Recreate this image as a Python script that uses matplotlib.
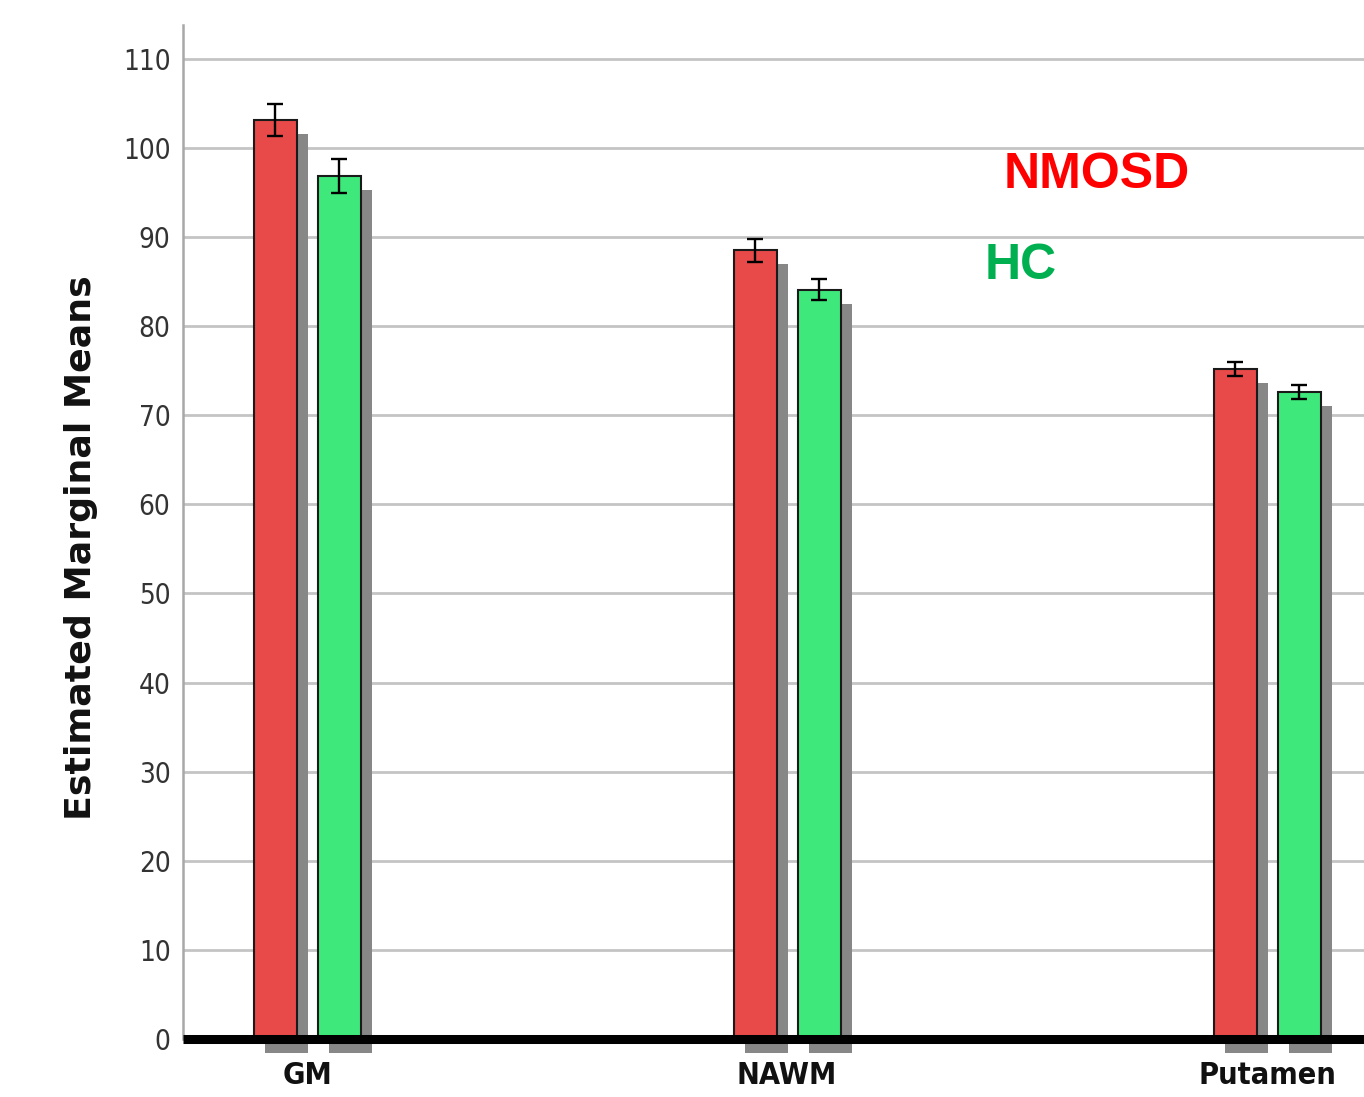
import matplotlib
matplotlib.use("Agg")
import matplotlib.pyplot as plt
from matplotlib import font_manager
import numpy as np

# ---- data ----
categories = ["GM", "NAWM", "Putamen"]
nmosd_means = [103.1, 88.5, 75.2]
nmosd_err = [1.8, 1.3, 0.8]
hc_means = [96.9, 84.1, 72.6]
hc_err = [1.9, 1.15, 0.8]
y_ticks = [0, 10, 20, 30, 40, 50, 60, 70, 80, 90, 100, 110]
series_labels = ["NMOSD", "HC"]

W, H, DPI = 1364, 1097, 100
fig = plt.figure(figsize=(W / DPI, H / DPI), dpi=DPI)

# axes geometry (pixels)
ax_left, ax_right, ax_bottom, ax_top = 183, 1364, 1039, 25
ax = fig.add_axes([ax_left / W, 1 - ax_bottom / H,
                   (ax_right - ax_left) / W, (ax_bottom - ax_top) / H])

px_per_x = 480.0
first_center = 307.0
ax.set_xlim(-(first_center - ax_left) / px_per_x, (ax_right - first_center) / px_per_x)
ymax = 113.8
ax.set_ylim(0, ymax)
px_per_y = (ax_bottom - ax_top) / ymax

x = np.arange(len(categories))
width = 43 / px_per_x
offset = 32 / px_per_x
red = "#e84a4a"
green = "#3ee87a"
shadow = "#878787"

sdx = 11 / px_per_x
sdy = 14 / px_per_y

for xs, vals, errs, col in [(x - offset, nmosd_means, nmosd_err, red),
                            (x + offset, hc_means, hc_err, green)]:
    vals = np.array(vals)
    ax.bar(xs + sdx, vals, width=width, bottom=-sdy, color=shadow,
           edgecolor="none", zorder=2, clip_on=False)
    ax.bar(xs, vals, width=width, color=col, edgecolor="#1a1a1a",
           linewidth=1.5, zorder=3)
    ax.errorbar(xs, vals, yerr=errs, fmt="none", ecolor="black",
                elinewidth=1.7, capsize=6, capthick=1.7, zorder=4)

# grid
ax.set_yticks(y_ticks)
ax.yaxis.grid(True, color="#c4c4c4", linewidth=2.0, zorder=0)
ax.set_axisbelow(True)

for s in ["top", "right"]:
    ax.spines[s].set_visible(False)
ax.spines["left"].set_color("#a8a8a8")
ax.spines["left"].set_linewidth(1.8)
ax.spines["bottom"].set_color("black")
ax.spines["bottom"].set_linewidth(6.5)
ax.spines["bottom"].set_capstyle("butt")
ax.spines["bottom"].set_zorder(5)

installed = {f.name for f in font_manager.fontManager.ttflist}
narrow_ok = "Liberation Sans Narrow" in installed

ax.tick_params(axis="y", length=0, pad=9, labelsize=22, labelcolor="#333333")
for lab in ax.get_yticklabels():
    if narrow_ok:
        lab.set_family("Liberation Sans Narrow")
    else:
        lab.set_family("DejaVu Sans")
        lab.set_fontstretch("condensed")
        lab.set_fontsize(20)

ax.set_xticks(x)
ax.set_xticklabels(categories)
ax.tick_params(axis="x", length=0, pad=16, labelsize=22)
for lab in ax.get_xticklabels():
    lab.set_family("DejaVu Sans")
    lab.set_fontweight("bold")
    lab.set_fontstretch("condensed")
    lab.set_color("#111111")

fig.text(81 / W, 1 - 548 / H, "Estimated Marginal Means", rotation=90,
         ha="center", va="center", fontsize=26.2, fontweight="bold",
         family="DejaVu Sans", color="#111111")

fig.text(1097 / W, 1 - 175 / H, series_labels[0], ha="center", va="center",
         fontsize=36, fontweight="bold", color="#ff0000",
         family=["Liberation Sans", "DejaVu Sans"])
fig.text(985 / W, 1 - 266 / H, series_labels[1], ha="left", va="center",
         fontsize=36, fontweight="bold", color="#00b050",
         family=["Liberation Sans", "DejaVu Sans"])

fig.savefig("out.png", dpi=DPI, facecolor="white")
